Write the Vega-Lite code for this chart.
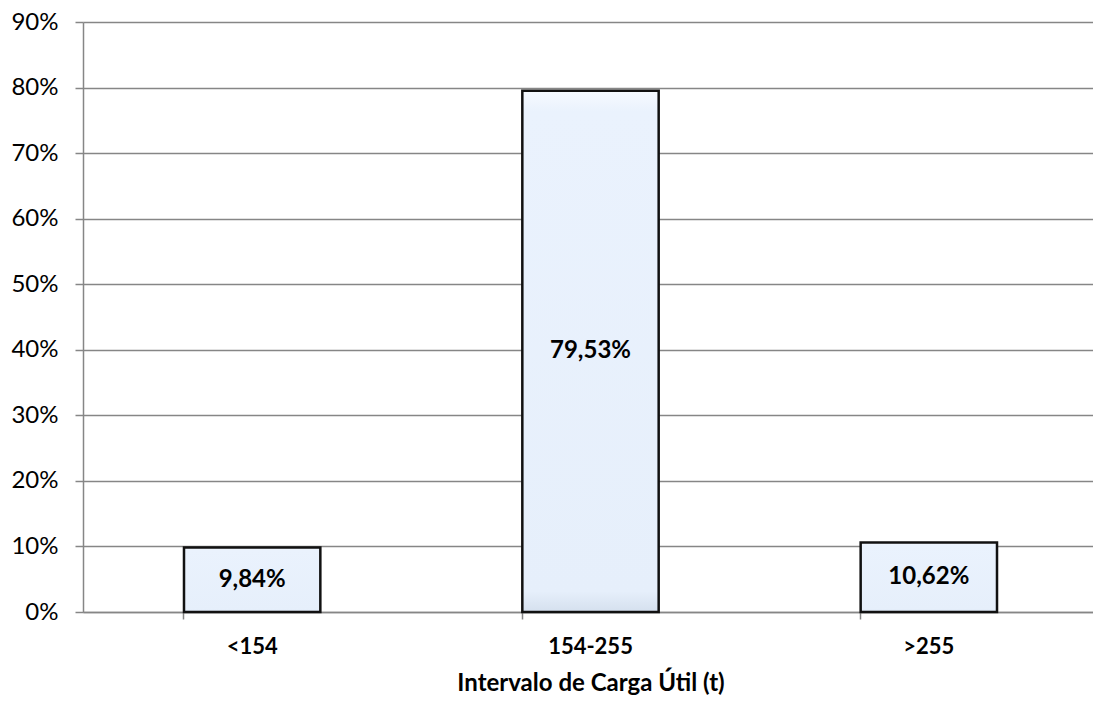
{
  "$schema": "https://vega.github.io/schema/vega-lite/v6.json",
  "autosize": "none",
  "width": 1015,
  "height": 590,
  "padding": {"left": 83, "top": 22, "right": 0, "bottom": 92},
  "background": "white",
  "config": {
    "view": {"stroke": null},
    "font": "Lato",
    "locale": {
      "number": {"decimal": ",", "thousands": ".", "grouping": [3], "currency": ["", " €"]}
    }
  },
  "data": {
    "values": [
      {"intervalo": "<154", "share": 0.0984},
      {"intervalo": "154-255", "share": 0.7953},
      {"intervalo": ">255", "share": 0.1062}
    ]
  },
  "encoding": {
    "x": {
      "field": "intervalo",
      "type": "nominal",
      "sort": null,
      "scale": {"paddingInner": 0.597, "paddingOuter": 0.2985},
      "axis": {
        "title": "Intervalo de Carga Útil (t)",
        "titleFont": "Lato",
        "titleFontSize": 24,
        "titleFontWeight": "bold",
        "titleColor": "#000000",
        "titlePadding": 14,
        "labelAngle": 0,
        "labelFont": "Lato",
        "labelFontSize": 22,
        "labelFontWeight": "bold",
        "labelColor": "#000000",
        "labelPadding": 17,
        "bandPosition": 0,
        "domainColor": "#868686",
        "domainWidth": 1.5,
        "tickColor": "#868686",
        "tickWidth": 1.5,
        "tickSize": 7,
        "grid": false
      }
    }
  },
  "layer": [
    {
      "mark": {
        "type": "bar",
        "fill": {
          "x1": 0, "y1": 0, "x2": 0, "y2": 1,
          "gradient": "linear",
          "stops": [
            {"offset": 0, "color": "#F6FAFF"},
            {"offset": 0.04, "color": "#EAF2FD"},
            {"offset": 0.96, "color": "#E6EFFB"},
            {"offset": 1, "color": "#D5E0EE"}
          ]
        },
        "stroke": "#111111",
        "strokeWidth": 2.5
      },
      "encoding": {
        "y": {
          "field": "share",
          "type": "quantitative",
          "scale": {"domain": [0, 0.9], "nice": false},
          "axis": {
            "title": null,
            "format": ".0%",
            "values": [0, 0.1, 0.2, 0.3, 0.4, 0.5, 0.6, 0.7, 0.8, 0.9],
            "labelFont": "Lato",
            "labelFontSize": 24,
            "labelColor": "#000000",
            "labelPadding": 17,
            "domainColor": "#868686",
            "domainWidth": 1.5,
            "tickColor": "#868686",
            "tickWidth": 1.5,
            "tickSize": 8,
            "grid": true,
            "gridColor": "#868686",
            "gridWidth": 1.5
          }
        }
      }
    },
    {
      "transform": [{"calculate": "datum.share / 2", "as": "labelPos"}],
      "mark": {
        "type": "text",
        "font": "Lato",
        "fontSize": 24,
        "fontWeight": "bold",
        "color": "#000000",
        "baseline": "middle",
        "align": "center"
      },
      "encoding": {
        "y": {"field": "labelPos", "type": "quantitative"},
        "text": {"field": "share", "type": "quantitative", "format": ".2%"}
      }
    }
  ]
}
